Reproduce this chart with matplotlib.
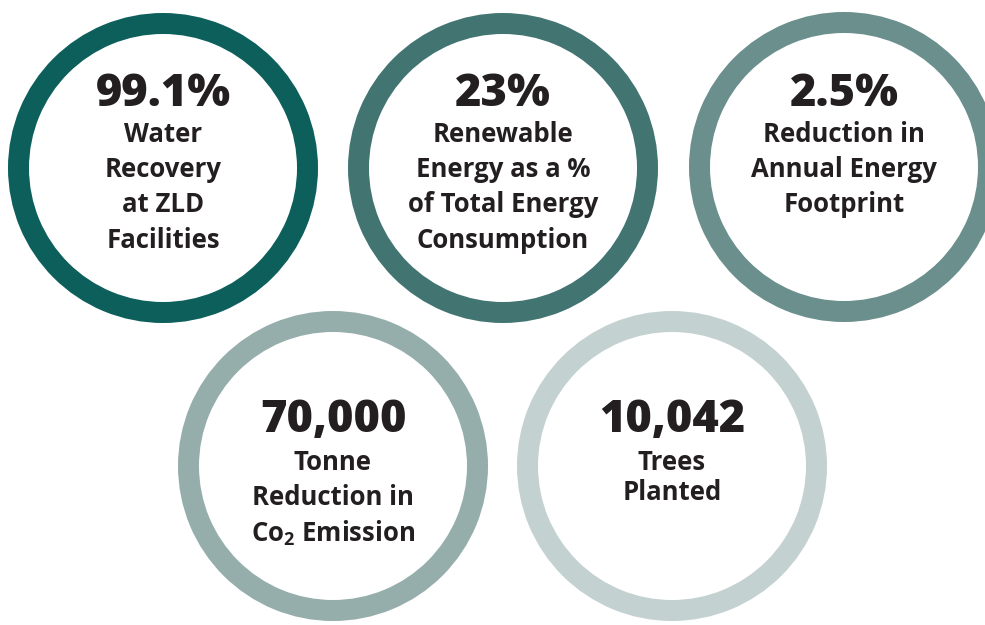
import matplotlib
matplotlib.use("Agg")
import matplotlib.pyplot as plt
from matplotlib.patches import Wedge

FONT = 'Open Sans'
plt.rcParams['mathtext.fontset'] = 'custom'
plt.rcParams['mathtext.rm'] = FONT + ':bold'
plt.rcParams['mathtext.it'] = FONT + ':bold'
plt.rcParams['mathtext.bf'] = FONT + ':bold'

values = ["99.1%", "23%", "2.5%", "70,000", "10,042"]
labels = [
    ["Water", "Recovery", "at ZLD", "Facilities"],
    ["Renewable", "Energy as a %", "of Total Energy", "Consumption"],
    ["Reduction in", "Annual Energy", "Footprint"],
    ["Tonne", "Reduction in", r"Co$_{2}$ Emission"],
    ["Trees", "Planted"],
]
ring_colors = ["#0d5f5b", "#427472", "#6b8f8d", "#95aeac", "#c3d2d1"]

# layout (pixel coordinates)
centers = [(163, 168), (503, 168), (844, 167), (333, 466), (672, 466)]
radius = 155
ring_w = 21
num_y = [94, 94, 94, 421, 421]
label_y0 = [134, 134, 134, 462, 462]
line_gaps = [35.5, 35.5, 35.5, 35.5, 30]
text_color = "#231f20"

fig = plt.figure(figsize=(9.85, 6.25), dpi=100)
ax = fig.add_axes([0, 0, 1, 1])
ax.set_xlim(0, 985)
ax.set_ylim(625, 0)
ax.set_aspect('equal')
ax.axis('off')

for i, (c, v, labs, col) in enumerate(zip(centers, values, labels, ring_colors)):
    ax.add_patch(Wedge(c, radius, 0, 360, width=ring_w, facecolor=col, edgecolor='none'))
    ax.text(c[0], num_y[i], v, ha='center', va='center', fontsize=32.5,
            fontweight='heavy', family=FONT, color=text_color)
    for j, lab in enumerate(labs):
        ax.text(c[0], label_y0[i] + j * line_gaps[i], lab, ha='center', va='center',
                fontsize=18.5, fontweight='bold', family=FONT, color=text_color)

fig.savefig("out.png", dpi=100)
